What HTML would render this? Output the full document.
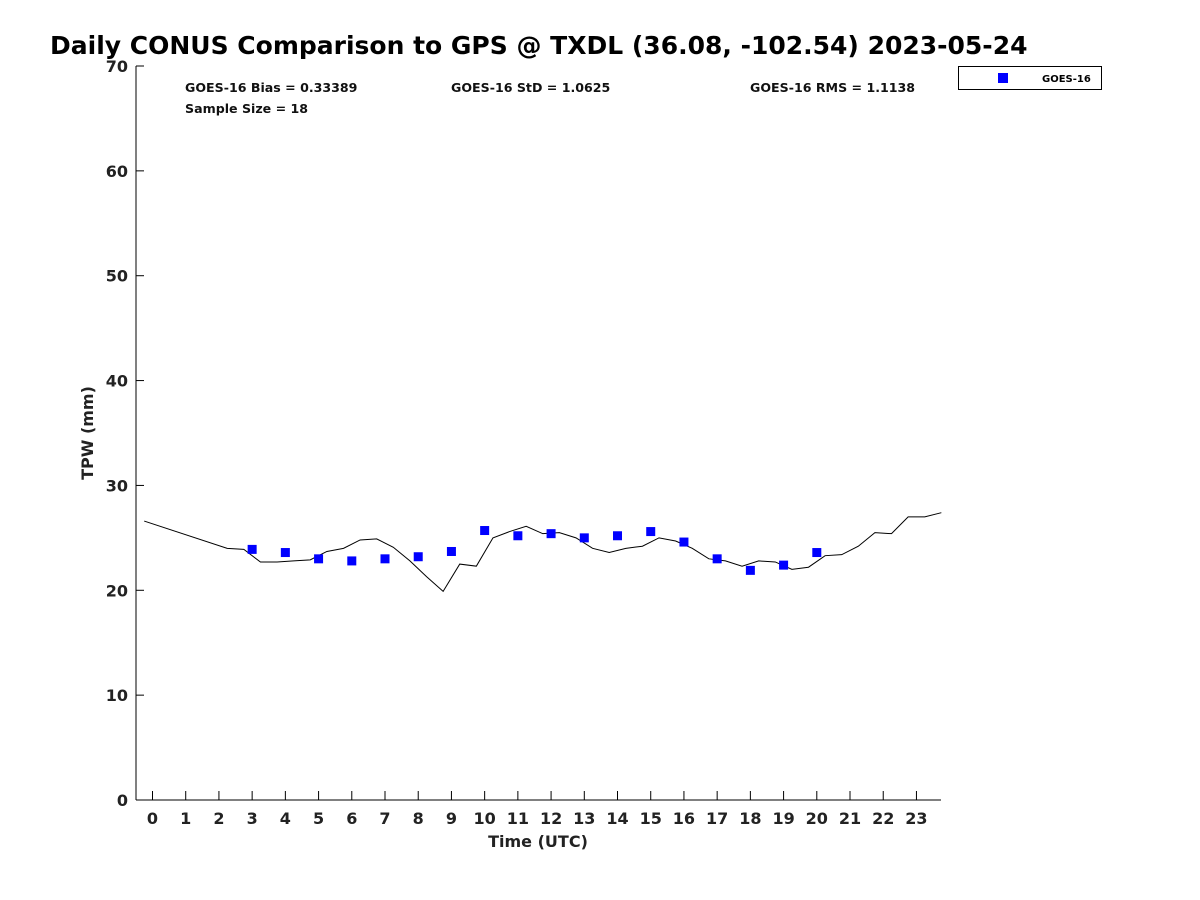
<!DOCTYPE html>
<html><head><meta charset="utf-8"><style>
body{margin:0;background:#fff;}
svg{display:block;font-family:"DejaVu Sans","Liberation Sans",sans-serif;}
</style></head><body>
<svg id="chart" width="1200" height="900">
<text x="50" y="54" font-size="25" font-weight="bold" fill="#000">Daily CONUS Comparison to GPS @ TXDL (36.08, -102.54) 2023-05-24</text>
<g id="axes"></g>
<g id="stats" font-size="12.6" font-weight="bold" fill="#111">
<text x="185" y="92">GOES-16 Bias = 0.33389</text>
<text x="185" y="113">Sample Size = 18</text>
<text x="451" y="92">GOES-16 StD = 1.0625</text>
<text x="750" y="92">GOES-16 RMS = 1.1138</text>
</g>
<g>
<rect x="958.5" y="66.5" width="143" height="23" fill="#fff" stroke="#000"/>
<rect x="998" y="73" width="10" height="10" fill="#0000ff"/>
<text x="1042" y="82" font-size="10" font-weight="bold">GOES-16</text>
</g>
<g id="plot"></g>
</svg>
<script>
const gpsHours=[-0.25,2.25,2.75,3.25,3.75,4.25,4.75,5.25,5.75,6.25,6.75,7.25,7.75,8.25,8.75,9.25,9.75,10.25,10.75,11.25,11.75,12.25,12.75,13.25,13.75,14.25,14.75,15.25,15.75,16.25,16.75,17.25,17.75,18.25,18.75,19.25,19.75,20.25,20.75,21.25,21.75,22.25,22.75,23.25,23.75];
const gpsValues=[26.6,24.0,23.9,22.7,22.7,22.8,22.9,23.7,24.0,24.8,24.9,24.1,22.8,21.3,19.9,22.5,22.3,25.0,25.6,26.1,25.4,25.5,25.0,24.0,23.6,24.0,24.2,25.0,24.7,24.0,23.0,22.8,22.3,22.8,22.7,22.0,22.2,23.3,23.4,24.2,25.5,25.4,27.0,27.0,27.4];
const goesHours=[3,4,5,6,7,8,9,10,11,12,13,14,15,16,17,18,19,20];
const goesValues=[23.9,23.6,23.0,22.8,23.0,23.2,23.7,25.7,25.2,25.4,25.0,25.2,25.6,24.6,23.0,21.9,22.4,23.6];
const xTicks=[0,1,2,3,4,5,6,7,8,9,10,11,12,13,14,15,16,17,18,19,20,21,22,23];
const yTicks=[0,10,20,30,40,50,60,70];
const NS='http://www.w3.org/2000/svg';
const L=136,R=941,T=66,B=800;
const X=h=>152.5+(h)*33.215;
const Y=v=>B-(v/70)*(B-T);
function mk(t,a,p){const e=document.createElementNS(NS,t);for(const k in a)e.setAttribute(k,a[k]);p.appendChild(e);return e;}
const ax=document.getElementById('axes');
const yl=mk('line',{x1:L,y1:T,x2:L,y2:B,stroke:'#000','stroke-width':1},ax);


const xl=mk('line',{x1:L,y1:B,x2:R,y2:B,stroke:'#000','stroke-width':1},ax);


xTicks.forEach(h=>{
 const t=mk('line',{x1:X(h),y1:B,x2:X(h),y2:B-9,stroke:'#000'},ax);
 
 
 const s=mk('text',{x:X(h),y:B+24,'font-size':16,'font-weight':'bold','text-anchor':'middle',fill:'#222'},ax);
 s.textContent=h;
 
 
});
yTicks.forEach(v=>{
 const t=mk('line',{x1:L,y1:Y(v),x2:L+8,y2:Y(v),stroke:'#000'},ax);
 
 
 const s=mk('text',{x:L-8,y:Y(v)+6,'font-size':16,'font-weight':'bold','text-anchor':'end',fill:'#222'},ax);
 s.textContent=v;
 
 
});
const xt=mk('text',{x:538,y:847,'font-size':16,'font-weight':'bold','text-anchor':'middle',fill:'#222'},ax);
xt.textContent='Time (UTC)';


const yt=mk('text',{x:0,y:0,'font-size':16,'font-weight':'bold','text-anchor':'middle',fill:'#222',transform:'translate(93,433) rotate(-90)'},ax);
yt.textContent='TPW (mm)';


const pl=document.getElementById('plot');
const line=mk('polyline',{points:gpsHours.map((h,i)=>X(h)+','+Y(gpsValues[i])).join(' '),fill:'none',stroke:'#000','stroke-width':1},pl);


goesHours.forEach((h,i)=>{
 const r=mk('rect',{x:X(h)-4.5,y:Y(goesValues[i])-4.5,width:9,height:9,fill:'#0000ff'},pl);
 
 
});
</script>
</body></html>
